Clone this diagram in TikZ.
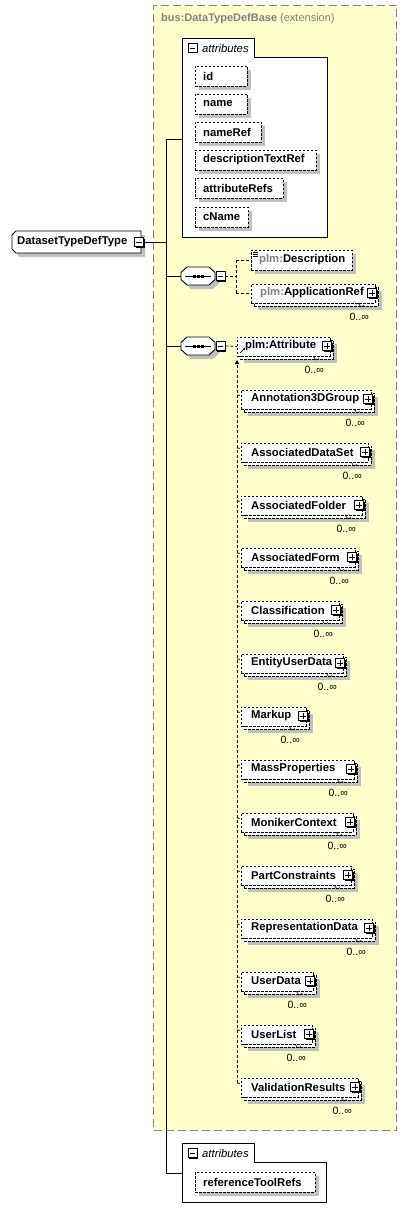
\documentclass[tikz,border=0pt]{standalone}
\usepackage{fontspec}
\setmainfont{Liberation Sans}
\usetikzlibrary{shadows,arrows.meta}
\definecolor{ybg}{RGB}{255,255,204}
\definecolor{shgray}{RGB}{192,192,192}
\definecolor{tgray}{RGB}{128,128,128}
\tikzset{
  shad/.style={drop shadow={shadow xshift=4pt, shadow yshift=-4pt, fill=shgray, opacity=1}},
  dbox/.style={draw, dash pattern=on 2.5pt off 1.5pt, line width=0.8pt, fill=white, inner sep=0pt, minimum height=19pt},
  lbl/.style={anchor=west, inner sep=0pt, font=\fontsize{11.3}{13}\selectfont\bfseries},
  ital/.style={anchor=west, inner sep=0pt, font=\fontsize{11.3}{13}\selectfont\itshape},
  occ/.style={anchor=east, inner sep=0pt, font=\fontsize{10.5}{12}\selectfont},
  pbox/.style={draw, fill=white, line width=0.8pt, minimum size=9pt, inner sep=0pt, drop shadow={shadow xshift=1pt, shadow yshift=-1pt, fill=black, opacity=1}},
  conn/.style={line width=0.8pt},
  dconn/.style={line width=0.8pt, dash pattern=on 3pt off 2pt},
  attrframe/.style={draw, line width=0.9pt, fill=white},
}
\newcommand\plusin[1]{\draw[line width=0.8pt] (#1.center) +(-2.8,0) -- +(2.8,0) +(0,-2.8) -- +(0,2.8);}
\newcommand\minusin[1]{\draw[line width=0.8pt] (#1.center) +(-2.8,0) -- +(2.8,0);}
\newcommand\octo[3]{\path[#1] (#2-11,#3-9) -- (#2+11,#3-9) -- (#2+17,#3-3.5) -- (#2+17,#3+3.5) -- (#2+11,#3+9) -- (#2-11,#3+9) -- (#2-17,#3+3.5) -- (#2-17,#3-3.5) -- cycle;}
\newcommand\seqnode[3]{%
  \octo{fill=shgray}{#2+4}{#3+4}
  \octo{draw, fill=white, line width=0.9pt}{#2}{#3}
  \node[inner sep=0pt, minimum width=34pt, minimum height=18pt] (#1) at (#2,#3) {};
  \draw[line width=0.9pt] (#2-13,#3) -- (#2+13,#3);
  \foreach \d in {-4,0,4} \fill (#2+\d-1.5,#3-1.5) rectangle (#2+\d+1.5,#3+1.5);
  \node[pbox] (#1-m) at (#2+22.5,#3) {};
  \minusin{#1-m}
}
\newcommand\ctype[3]{\path[#1] (#2+4,#3) -- (#2+129,#3) -- (#2+129,#3+22) -- (#2+4,#3+22) -- (#2,#3+18) -- (#2,#3+4) -- cycle;}
\newcommand\multelem[6]{%
  \node[dbox, shad, anchor=north west, minimum width={#4-#3}] (#1-b) at (#3+3,#2-6.5) {};
  \node[dbox, anchor=north west, minimum width={#4-#3}] (#1) at (#3,#2-9.5) {};
  \node[lbl] (#1-t) at (#3+#6,#2) {#5};
  \node[pbox] (#1-p) at (#4-3,#2) {};
  \plusin{#1-p}
  \draw[line width=0.6pt] (#4-17,#2+10) -- (#4-14,#2+14) -- (#4-11,#2+12.5);
  \node[occ] (#1-o) at (#4-6,#2+24) {0..∞};
}
\begin{document}
\begin{tikzpicture}[x=1pt,y=-1pt]
\useasboundingbox (0,0) rectangle (406,1220);
% extension area
\node[draw=tgray, fill=ybg, dash pattern=on 8pt off 4pt, line width=1pt, anchor=north west, minimum width=243, minimum height=1125, inner sep=0pt] (ext) at (153,5) {};
\node[anchor=west, inner sep=0pt, text=tgray, font=\fontsize{11}{13}\selectfont] (ext-t) at (161,19) {\bfseries bus:DataTypeDefBase \mdseries (extension)};
% attributes (top)
\draw[attrframe] (182,38) -- (254,38) -- (254,57) -- (327,57) -- (327,237) -- (182,237) -- cycle;
\node[inner sep=0pt, anchor=north west, minimum width=145, minimum height=180] (abox) at (182,57) {};
\node[pbox] (abox-m) at (192.5,48) {}; \minusin{abox-m}
\node[ital] (abox-t) at (202,48) {attributes};
\foreach \nm/\cy/\rx in {id/76/247, name/104/247, nameRef/132/261, descriptionTextRef/160/316, attributeRefs/188/283, cName/217/248}{
  \node[dbox, shad, anchor=west, minimum width={\rx-195}, minimum height=20pt] (a-\nm) at (195,\cy) {};
  \node[lbl] (a-\nm-t) at (203,\cy) {\nm};
}
% complex type
\ctype{fill=shgray}{16}{235}
\ctype{draw, fill=white, line width=0.9pt}{12}{231}
\node[inner sep=0pt, anchor=north west, minimum width=129, minimum height=22] (ct) at (12,231) {};
\node[lbl] (ct-t) at (17,242) {DatasetTypeDefType};
\node[pbox] (ct-m) at (139,242) {}; \minusin{ct-m}
% sequences
\seqnode{s1}{198}{276}
\seqnode{s2}{198}{346}
% first sequence children
\node[dbox, shad, anchor=west, minimum width=101, minimum height=20pt] (desc) at (251,260) {};
\node[lbl] (desc-t) at (259,260) {\textcolor{tgray}{plm:}Description};
\foreach \k in {0,1,2} \draw[line width=0.6pt] (253,252.5+1.8*\k) -- (258,252.5+1.8*\k);
\multelem{app}{293}{251}{375}{\textcolor{tgray}{plm:}ApplicationRef}{9}
% second sequence child
\multelem{pa}{346}{237}{330}{plm:Attribute}{8}
\draw[line width=0.7pt, -{Stealth[length=2.5pt,width=2.5pt]}] (240,353) -- (245,348);
% substitution members
\foreach \nm/\cy/\rx in {Annotation3DGroup/399/371, AssociatedDataSet/452/368, AssociatedFolder/505/362, AssociatedForm/557/355, Classification/610/339, EntityUserData/663/343, Markup/716/306, MassProperties/769/354, MonikerContext/822/353, PartConstraints/875/351, RepresentationData/928/372, UserData/981/313, UserList/1034/312, ValidationResults/1087/358}{
  \multelem{m-\nm}{\cy}{241}{\rx}{\nm}{10}
  \draw[dconn] (237,\cy-4) -- ([yshift=4pt]m-\nm.west);
}
\coordinate (sub-top) at (237,360);
\coordinate (sub-bot) at (237,1083);
\draw[dconn, -{Triangle[length=4pt,width=4.5pt]}] (sub-bot) -- (sub-top);
% bottom attributes
\draw[attrframe] (182,1143) -- (254,1143) -- (254,1162) -- (326,1162) -- (326,1202) -- (182,1202) -- cycle;
\node[inner sep=0pt, anchor=north west, minimum width=144, minimum height=40] (bbox) at (182,1162) {};
\node[pbox] (bbox-m) at (192.5,1153) {}; \minusin{bbox-m}
\node[ital] (bbox-t) at (202,1153) {attributes};
\node[dbox, shad, anchor=west, minimum width=120, minimum height=20pt] (a-rtr) at (195,1182) {};
\node[lbl] (a-rtr-t) at (203,1182) {referenceToolRefs};
% trunk connectors
\coordinate (j-ct) at (166,242);
\coordinate (j-top) at (166,139);
\coordinate (j-bot) at (166,1173);
\draw[conn] (ct-m.east) -- (j-ct);
\draw[conn] (j-top) -- (j-bot);
\draw[conn] (j-top) -- (abox.west |- j-top);
\draw[conn] (j-bot) -- (bbox.west |- j-bot);
\draw[conn] (s1.west -| j-top) -- (s1.west);
\draw[conn] (s2.west -| j-top) -- (s2.west);
\coordinate (b1) at (236,276);
\draw[dconn] (s1-m.east) -- (b1);
\draw[dconn] (b1 |- desc.west) -- (b1 |- app.west);
\draw[dconn] (b1 |- desc.west) -- (desc.west);
\draw[dconn] (b1 |- app.west) -- (app.west);
\draw[dconn] (s2-m.east) -- (pa.west);
\end{tikzpicture}
\end{document}
